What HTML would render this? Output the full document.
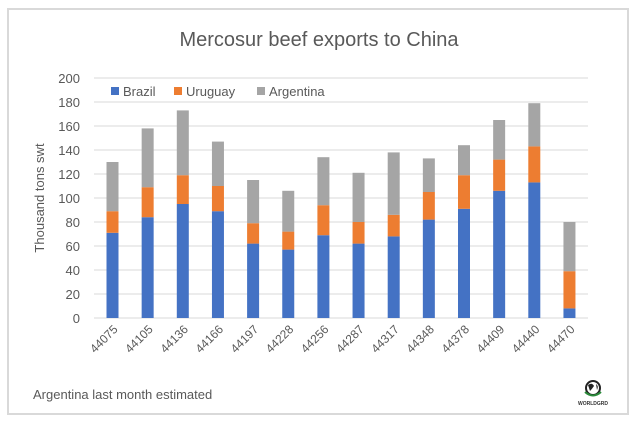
<!DOCTYPE html>
<html><head><style>body{margin:0;background:#fff}svg{display:block}text{font-family:"Liberation Sans",sans-serif}</style></head>
<body>
<svg width="638" height="423" viewBox="0 0 638 423" xmlns="http://www.w3.org/2000/svg">
<rect x="0" y="0" width="638" height="423" fill="#fff"/>
<rect x="8" y="9" width="620" height="405" fill="#fff" stroke="#d9d9d9" stroke-width="2"/>
<text x="319" y="46" text-anchor="middle" font-size="20" fill="#595959">Mercosur beef exports to China</text>
<g stroke="#d9d9d9" stroke-width="1">
<line x1="94" x2="588" y1="78" y2="78"/><line x1="94" x2="588" y1="102" y2="102"/><line x1="94" x2="588" y1="126" y2="126"/><line x1="94" x2="588" y1="150" y2="150"/><line x1="94" x2="588" y1="174" y2="174"/><line x1="94" x2="588" y1="198" y2="198"/><line x1="94" x2="588" y1="222" y2="222"/><line x1="94" x2="588" y1="246" y2="246"/><line x1="94" x2="588" y1="270" y2="270"/><line x1="94" x2="588" y1="294" y2="294"/><line x1="94" x2="588" y1="318" y2="318"/>
</g>
<g font-size="13" fill="#595959" text-anchor="end">
<text x="80" y="83">200</text><text x="80" y="107">180</text><text x="80" y="131">160</text><text x="80" y="155">140</text><text x="80" y="179">120</text><text x="80" y="203">100</text><text x="80" y="227">80</text><text x="80" y="251">60</text><text x="80" y="275">40</text><text x="80" y="299">20</text><text x="80" y="323">0</text>
</g>
<text transform="translate(44,198) rotate(-90)" text-anchor="middle" font-size="13" fill="#595959">Thousand tons swt</text>
<g font-size="13" fill="#595959">
<rect x="111" y="87" width="8" height="8" fill="#4472c4"/><text x="123" y="96">Brazil</text>
<rect x="174" y="87" width="8" height="8" fill="#ed7d31"/><text x="186" y="96">Uruguay</text>
<rect x="257" y="87" width="8" height="8" fill="#a5a5a5"/><text x="269" y="96">Argentina</text>
</g>
<g id="bars"></g>
<g id="xl" font-size="12" fill="#595959" text-anchor="end"></g>
<text x="33" y="399" font-size="13" fill="#595959">Argentina last month estimated</text>
<circle cx="593" cy="388" r="7" fill="#fff" stroke="#222" stroke-width="2"/>
<path d="M588 385 q4 -3 6 1 q-2 3 -4 5z M596 384 q3 2 1 6z" fill="#222"/>
<path d="M585 392 q8 7 16 0" stroke="#2a8a3a" stroke-width="2" fill="none"/>
<text x="593" y="405" font-size="5" text-anchor="middle" fill="#333" font-weight="bold">WORLDGRD</text>
<script>
var d=[[71,89,130],[84,109,158],[95,119,173],[89,110,147],[62,79,115],[57,72,106],[69,94,134],[62,80,121],[68,86,138],[82,105,133],[91,119,144],[106,132,165],[113,143,179],[8,39,80]];
var labs=[44075,44105,44136,44166,44197,44228,44256,44287,44317,44348,44378,44409,44440,44470];
var y0=318,k=1.2,ns="http://www.w3.org/2000/svg",g=document.getElementById("bars"),xl=document.getElementById("xl");
function r(x,y,w,h,c){var e=document.createElementNS(ns,"rect");e.setAttribute("x",x);e.setAttribute("y",y);e.setAttribute("width",w);e.setAttribute("height",h);e.setAttribute("fill",c);g.appendChild(e);}
d.forEach(function(v,i){var cx=112.5+i*35.15,x=cx-6,w=12;
r(x,y0-v[0]*k,w,v[0]*k,"#4472c4");
r(x,y0-v[1]*k,w,(v[1]-v[0])*k,"#ed7d31");
r(x,y0-v[2]*k,w,(v[2]-v[1])*k,"#a5a5a5");
var t=document.createElementNS(ns,"text");t.setAttribute("transform","translate("+(cx+6)+",330) rotate(-45)");t.textContent=labs[i];xl.appendChild(t);});
</script>
</svg>
</body></html>
